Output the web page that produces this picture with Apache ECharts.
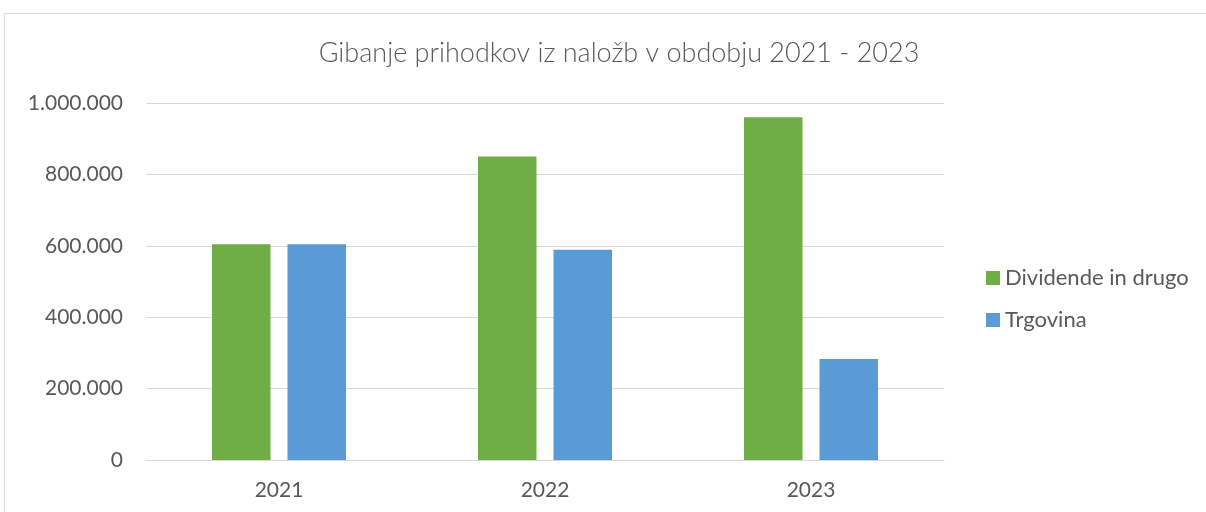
<!DOCTYPE html>
<html>
<head>
<meta charset="utf-8">
<script src="https://cdn.jsdelivr.net/npm/echarts@6/dist/echarts.min.js"></script>
<style>
  html, body { margin: 0; padding: 0; background: #fff; }
  #chart { width: 1206px; height: 512px; }
</style>
</head>
<body>
<div id="chart"></div>
<script>
// Investment income by year, split by source
const years = ['2021', '2022', '2023'];
const dividendeInDrugo = [604000, 850000, 960000];
const trgovina = [604000, 589000, 283000];
const seriesNames = ['Dividende in drugo', 'Trgovina'];
const titleText = 'Gibanje prihodkov iz naložb v obdobju 2021 - 2023';

const textColor = '#595959';
const fontFamily = 'Lato, "Open Sans", sans-serif';

// Thousands separated by dots (Slovenian style)
function fmt(v) {
  return String(v).replace(/\B(?=(\d{3})+(?!\d))/g, '.');
}

const chart = echarts.init(document.getElementById('chart'), null, { renderer: 'canvas' });
chart.setOption({
  animation: false,
  backgroundColor: '#ffffff',
  textStyle: { fontFamily: fontFamily },
  title: {
    text: titleText,
    left: 614,
    textAlign: 'center',
    top: 35,
    textStyle: { color: textColor, fontSize: 27, fontWeight: 300, fontFamily: fontFamily }
  },
  graphic: [{
    type: 'rect',
    shape: { x: 4.5, y: 13.5, width: 1400, height: 600 },
    style: { fill: 'none', stroke: '#d9d9d9', lineWidth: 1 },
    silent: true,
    z: -1
  }],
  legend: {
    orient: 'vertical',
    left: 981,
    top: 262,
    itemWidth: 14,
    itemHeight: 14,
    itemGap: 20,
    icon: 'rect',
    textStyle: { color: textColor, fontSize: 22, fontFamily: fontFamily },
    data: seriesNames
  },
  grid: { left: 146, right: 262, top: 103, bottom: 52, containLabel: false },
  xAxis: {
    type: 'category',
    data: years,
    axisLine: { show: true, lineStyle: { color: '#d9d9d9', width: 1 } },
    axisTick: { show: false },
    axisLabel: { color: textColor, fontSize: 21, margin: 20, fontFamily: fontFamily }
  },
  yAxis: {
    type: 'value',
    min: 0,
    max: 1000000,
    interval: 200000,
    axisLine: { show: false },
    axisTick: { show: false },
    splitLine: { lineStyle: { color: '#d9d9d9', width: 1 } },
    axisLabel: { color: textColor, fontSize: 21, margin: 23, fontFamily: fontFamily, formatter: fmt }
  },
  series: [
    {
      name: seriesNames[0],
      type: 'bar',
      data: dividendeInDrugo,
      barWidth: '22%',
      barGap: '29%',
      itemStyle: { color: '#70ad47' }
    },
    {
      name: seriesNames[1],
      type: 'bar',
      data: trgovina,
      barWidth: '22%',
      barGap: '29%',
      itemStyle: { color: '#5b9bd5' }
    }
  ]
});
</script>
</body>
</html>
